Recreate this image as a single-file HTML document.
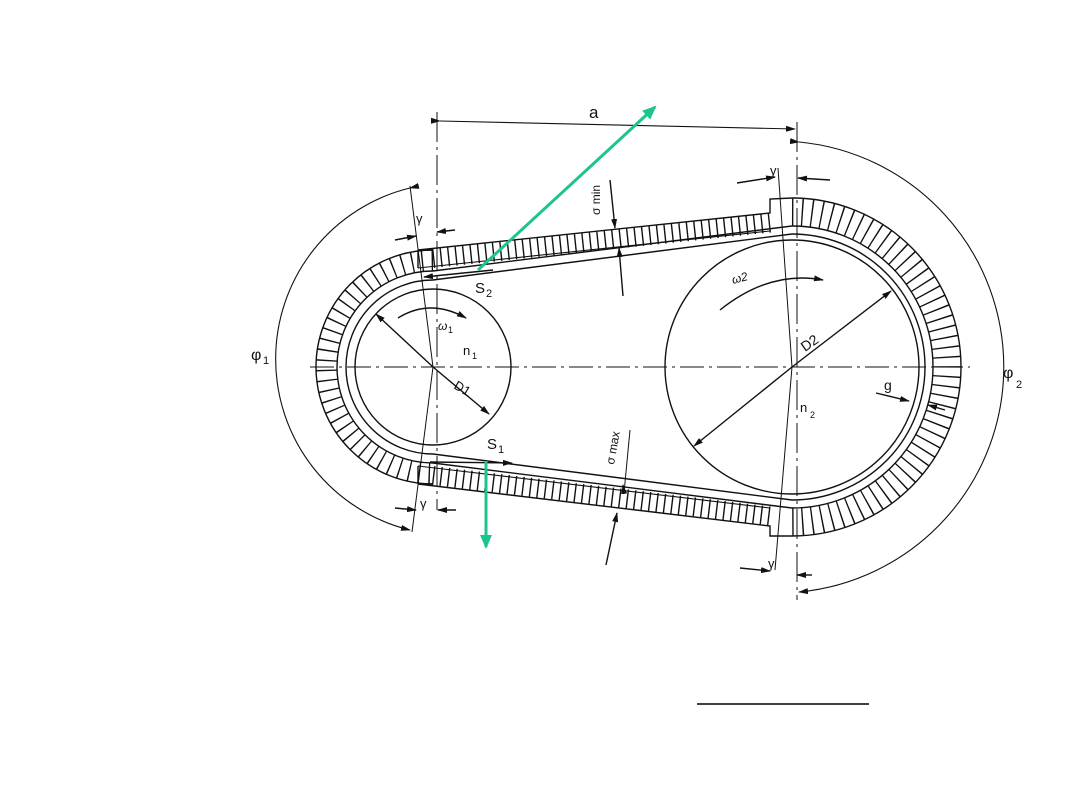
<!DOCTYPE html>
<html><head><meta charset="utf-8"><style>
html,body{margin:0;padding:0;background:#fff;}
svg{display:block}
text{font-family:"Liberation Sans",sans-serif;fill:#111}
</style></head><body>
<svg width="1080" height="810" viewBox="0 0 1080 810" xmlns="http://www.w3.org/2000/svg">
<defs>
<marker id="ah" markerWidth="10" markerHeight="8" refX="9" refY="4" orient="auto" markerUnits="userSpaceOnUse"><path d="M0,1 L10,4 L0,7 z" fill="#111"/></marker>
<marker id="gh" markerWidth="14" markerHeight="12" refX="12" refY="6" orient="auto" markerUnits="userSpaceOnUse"><path d="M0,0 L14,6 L0,12 z" fill="#1cc48f"/></marker>
</defs>
<g fill="none" stroke="#111">
<path d="M433,260.5 A106.5,106.5 0 0 0 433,473.5" stroke-width="21" stroke-dasharray="1.4,8.6"/>
<path d="M792,212 A155,155 0 0 1 792,522" stroke-width="28" stroke-dasharray="1.4,8.3"/>
<path d="M433,258.5 L770,223" stroke-width="19" stroke-dasharray="1.4,6.1"/>
<path d="M433,475.5 L770,516" stroke-width="19" stroke-dasharray="1.4,6.1"/>
</g>
<g stroke="#111" stroke-width="1.4" fill="none">
<circle cx="433" cy="367" r="78"/>
<circle cx="792" cy="367" r="127"/>
<path d="M433,280 A87,87 0 0 0 433,454"/>
<path d="M433,271 A96,96 0 0 0 433,463"/>
<path d="M433,250 A117,117 0 0 0 433,484"/>
<path d="M792,234 A133,133 0 0 1 792,500"/>
<path d="M792,226 A141,141 0 0 1 792,508"/>
<path d="M792,198 A169,169 0 0 1 792,536"/>
<path d="M433,280 L792,234"/>
<path d="M433,271 L792,226"/>
<path d="M418,250 L433,250 M418,250 L770,213 L770,199 L792,198"/>
<path d="M433,454 L792,500"/>
<path d="M433,463 L792,508"/>
<path d="M418,484 L433,484 M418,484 L770,526 L770,536 L792,536"/>
<path d="M418,250 L418,268 M418,466 L418,484"/>
<path d="M418,268 L770,231" stroke-width="1.1"/>
<path d="M418,466 L770,508" stroke-width="1.1"/>
<path d="M310,367 L970,367" stroke-dasharray="24,5,3,5" stroke-width="1"/>
<path d="M437,112 L437,510" stroke-dasharray="30,5,3,5" stroke-width="1"/>
<path d="M797,122 L797,600" stroke-dasharray="30,5,3,5" stroke-width="1"/>
<path d="M410,186 L433,367 L412,532" stroke-width="1"/>
<path d="M778,168 L792,367 L775,570" stroke-width="1"/>
<path d="M440,121 L795,129" marker-end="url(#ah)" marker-start="url(#ah)" stroke-width="1.1"/>
<path d="M410,188 A176,176 0 0 0 410,530" marker-start="url(#ah)" marker-end="url(#ah)" stroke-width="1.1"/>
<path d="M799,142 A226,226 0 0 1 799,592" marker-start="url(#ah)" marker-end="url(#ah)" stroke-width="1.1"/>
<path d="M395,240 L416,236" marker-end="url(#ah)"/><path d="M455,230 L437,232" marker-end="url(#ah)"/>
<path d="M395,508 L416,510" marker-end="url(#ah)"/><path d="M456,510 L438,510" marker-end="url(#ah)"/>
<path d="M737,183 L775,177" marker-end="url(#ah)"/><path d="M830,180 L798,178" marker-end="url(#ah)"/>
<path d="M740,568 L770,571" marker-end="url(#ah)"/><path d="M812,575 L797,575" marker-end="url(#ah)"/>
<path d="M398,318 Q430,298 466,318" marker-end="url(#ah)"/>
<path d="M720,310 Q770,270 823,280" marker-end="url(#ah)"/>
<path d="M433,367 L376,314" marker-end="url(#ah)"/><path d="M433,367 L489,414" marker-end="url(#ah)"/>
<path d="M792,367 L891,291" marker-end="url(#ah)"/><path d="M792,367 L694,446" marker-end="url(#ah)"/>
<path d="M493,270 L424,277" marker-end="url(#ah)"/>
<path d="M430,462 L512,463" marker-end="url(#ah)"/>
<path d="M610,180 L615,228" marker-end="url(#ah)"/><path d="M623,296 L619,248" marker-end="url(#ah)"/>
<path d="M630,430 L624,493" stroke-width="1"/><path d="M606,565 L617,513" marker-end="url(#ah)"/>
<path d="M624,493 L623,485" marker-end="url(#ah)"/>
<path d="M876,393 L909,401" marker-end="url(#ah)"/><path d="M945,410 L928,405" marker-end="url(#ah)"/>
</g>
<text x="589" y="118" font-size="17">a</text>
<text x="416" y="223" font-size="13">γ</text>
<text x="420" y="508" font-size="13">γ</text>
<text x="770" y="175" font-size="13">γ</text>
<text x="768" y="568" font-size="13">γ</text>
<text x="251" y="360" font-size="16">φ</text><text x="263" y="364" font-size="11">1</text>
<text x="1003" y="378" font-size="16">φ</text><text x="1016" y="388" font-size="11">2</text>
<text x="463" y="355" font-size="13">n</text><text x="472" y="359" font-size="9">1</text>
<text x="800" y="412" font-size="13">n</text><text x="810" y="418" font-size="9">2</text>
<text x="475" y="293" font-size="15">S</text><text x="486" y="297" font-size="11">2</text>
<text x="487" y="449" font-size="15">S</text><text x="498" y="453" font-size="11">1</text>
<text x="438" y="330" font-size="12" font-style="italic">ω</text><text x="448" y="333" font-size="9">1</text>
<text x="733" y="284" font-size="12" font-style="italic" transform="rotate(-15 733 284)">ω2</text>
<text x="453" y="388" font-size="13" transform="rotate(30 453 388)">D1</text>
<text x="805" y="352" font-size="14" transform="rotate(-35 805 352)">D2</text>
<text x="884" y="390" font-size="14">g</text>
<text x="600" y="215" font-size="12" transform="rotate(-90 600 215)">σ min</text>
<text x="614" y="465" font-size="12" transform="rotate(-80 614 465)">σ max</text>
<line x1="478" y1="270" x2="655" y2="107" stroke="#1cc48f" stroke-width="3" marker-end="url(#gh)"/>
<line x1="486" y1="461" x2="486" y2="547" stroke="#1cc48f" stroke-width="3" marker-end="url(#gh)"/>
<line x1="697" y1="704" x2="869" y2="704" stroke="#000" stroke-width="1.5"/>
</svg>
</body></html>
